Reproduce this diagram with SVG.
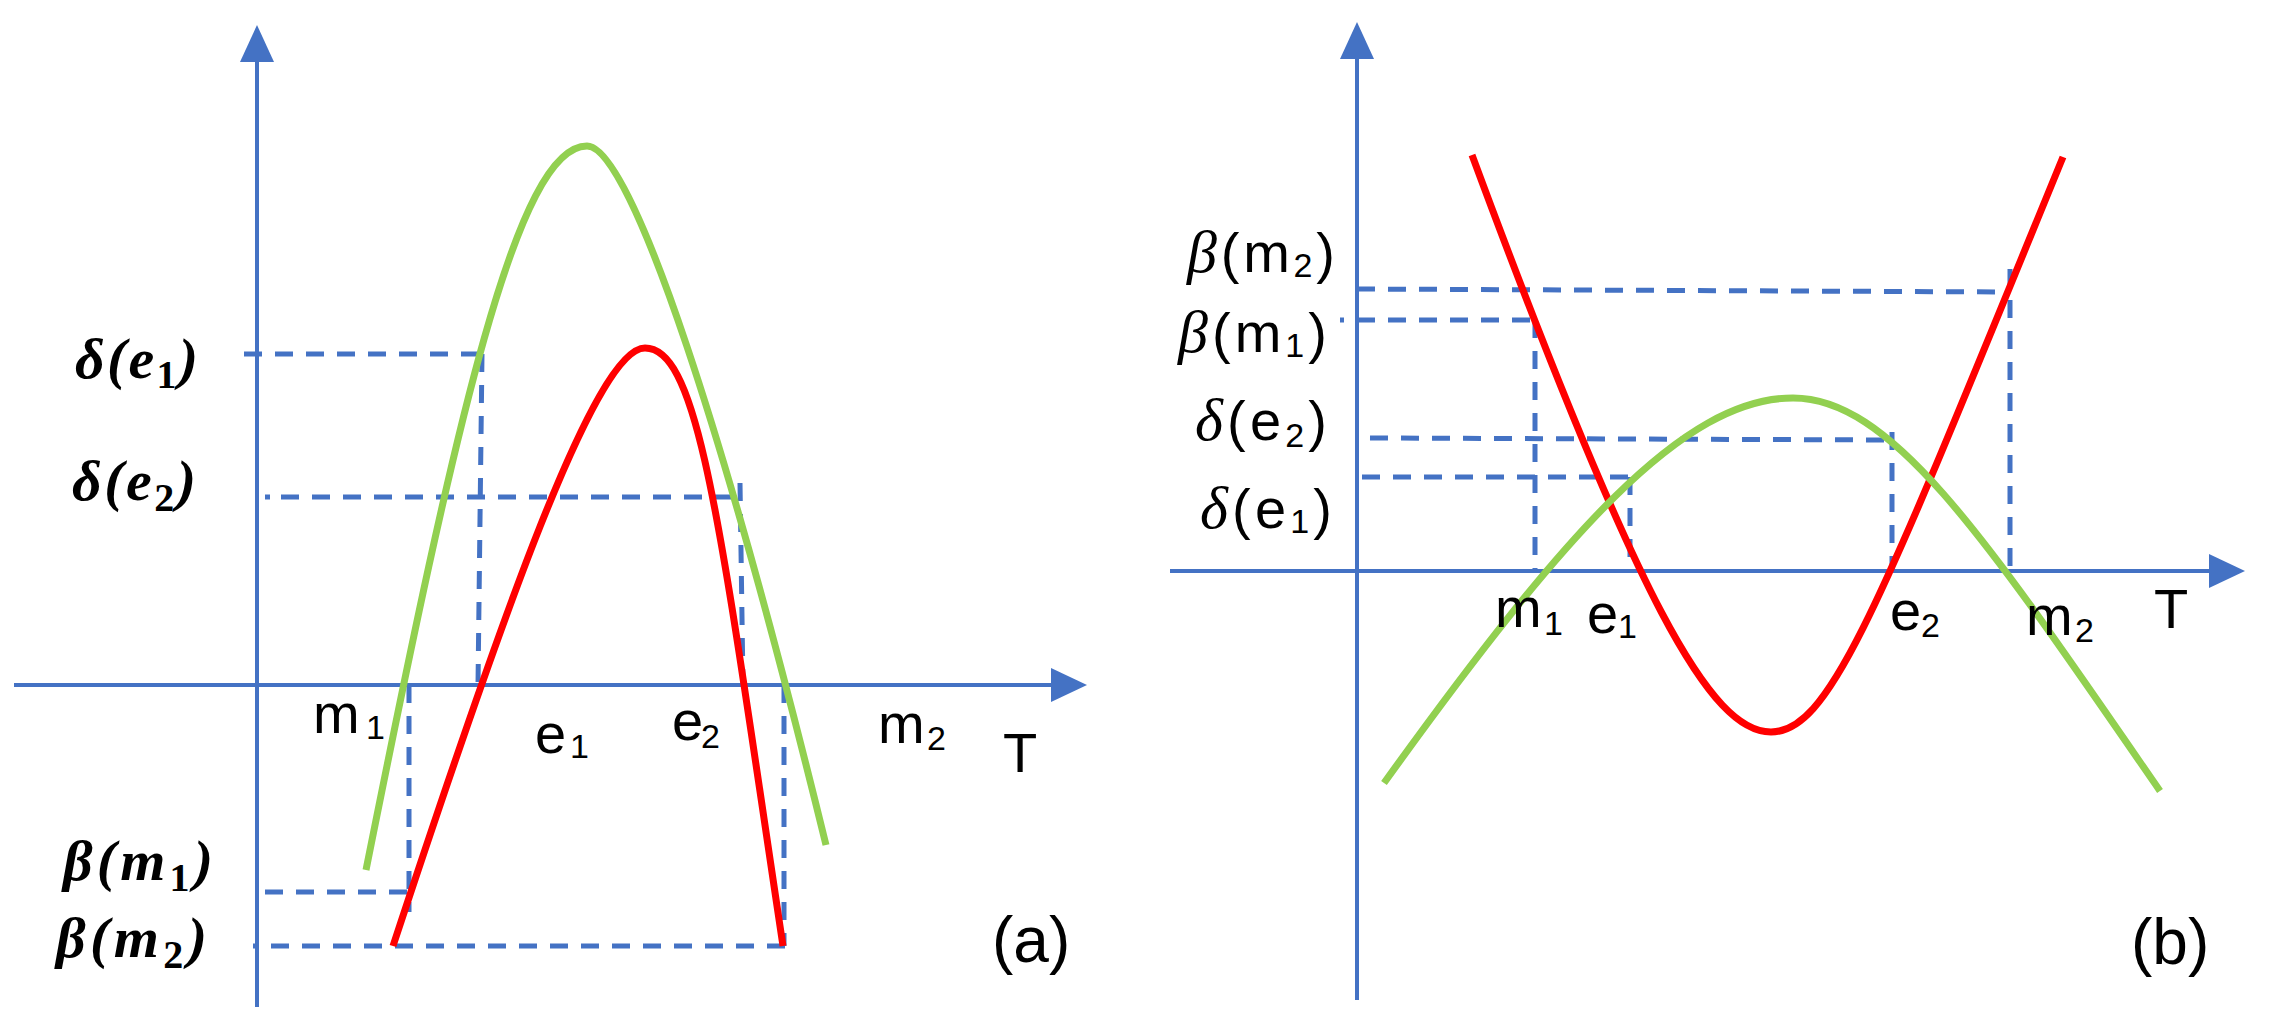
<svg xmlns="http://www.w3.org/2000/svg" width="2273" height="1024" viewBox="0 0 2273 1024">
<style>
.axis{stroke:#4472C4;stroke-width:4;fill:none}
.head{fill:#4472C4;stroke:none}
.dash{stroke:#4472C4;stroke-width:5;fill:none;stroke-dasharray:18 13}
.green{stroke:#92D050;stroke-width:7;fill:none}
.red{stroke:#FF0000;stroke-width:7;fill:none}
.lblA{font-family:"Liberation Serif",serif;font-weight:bold;font-style:italic;font-size:58px;fill:#000}
.subA{font-size:40px;font-style:normal}
.sans{font-family:"Liberation Sans",Arial,sans-serif;font-size:56px;fill:#000}
.greek{font-family:"Liberation Serif",serif;font-style:italic;font-size:60px}
.sub{font-size:34px}
.tag{font-family:"Liberation Sans",Arial,sans-serif;font-size:64px;fill:#000}
</style>
<rect width="2273" height="1024" fill="#fff"/>

<!-- Panel (a) -->
<g id="panel-a">
  <g id="axes-a">
    <line class="axis" x1="257" y1="1007" x2="257" y2="55"/>
    <polygon class="head" points="257,25 240,62 274,62"/>
    <line class="axis" x1="14" y1="685" x2="1060" y2="685"/>
    <polygon class="head" points="1087,685 1051,668 1051,702"/>
  </g>
  <g id="guides-a">
    <path class="dash" d="M244,354 H484 M482,354 L478,685"/>
    <path class="dash" d="M265,497 H270 M281,497 H740 M740,483 L743,685"/>
    <path class="dash" d="M265,892 H410 M409,685 V912"/>
    <path class="dash" d="M253,946 H258 M271,946 H790 M784,685 V946"/>
  </g>
  <g id="curves-a">
    <path id="green-a" class="green" d="M366,870 C456,420 517,146 587,146 C632,146 728,445 826,845"/>
    <path id="red-a" class="red" d="M393,946 C498.6,626 595,348 645,348 C700,348 720,526 783,946"/>
  </g>
  <g id="labels-a">
    <text class="lblA" x="75" y="378" textLength="123" lengthAdjust="spacing">δ(e<tspan class="subA" dy="10">1</tspan><tspan dy="-10">)</tspan></text>
    <text class="lblA" x="72" y="500" textLength="124" lengthAdjust="spacing">δ(e<tspan class="subA" dy="11">2</tspan><tspan dy="-11">)</tspan></text>
    <text class="lblA" x="63" y="880" textLength="150" lengthAdjust="spacing">β(m<tspan class="subA" dy="11">1</tspan><tspan dy="-11">)</tspan></text>
    <text class="lblA" x="56" y="957" textLength="151" lengthAdjust="spacing">β(m<tspan class="subA" dy="11">2</tspan><tspan dy="-11">)</tspan></text>
    <text class="sans" x="313" y="733">m<tspan class="sub" x="366" y="739">1</tspan></text>
    <text class="sans" x="535" y="753">e<tspan class="sub" x="570" y="758">1</tspan></text>
    <text class="sans" x="672" y="740">e<tspan class="sub" x="701" y="748">2</tspan></text>
    <text class="sans" x="878" y="743">m<tspan class="sub" x="927" y="750">2</tspan></text>
    <text class="sans" x="1003" y="772">T</text>
    <text class="tag" x="992" y="962">(a)</text>
  </g>
</g>

<!-- Panel (b) -->
<g id="panel-b">
  <g id="axes-b">
    <line class="axis" x1="1357" y1="1000" x2="1357" y2="52"/>
    <polygon class="head" points="1357,22 1340,59 1374,59"/>
    <line class="axis" x1="1170" y1="571" x2="2218" y2="571"/>
    <polygon class="head" points="2245,571 2209,554 2209,588"/>
  </g>
  <g id="guides-b">
    <path class="dash" d="M1357,289 L2010,292 M2010,269 V571"/>
    <path class="dash" d="M1340,320 H1344 M1357,320 H1533 M1535,320 V571"/>
    <path class="dash" d="M1370,438 L1892,440 M1892,432 V571"/>
    <path class="dash" d="M1362,477 H1630 M1630,477 V571"/>
  </g>
  <g id="curves-b">
    <path id="red-b" class="red" d="M1472,155 C1638.5,605 1711,732 1771,732 C1831,732 1878.5,607 2063,157"/>
    <path id="green-b" class="green" d="M1384,783 C1564,533 1683,398 1793,398 C1893,398 1987.5,541 2160,791"/>
  </g>
  <g id="labels-b">
    <text class="sans" x="1187" y="272" textLength="148" lengthAdjust="spacing"><tspan class="greek">β</tspan>(m<tspan class="sub" dy="5">2</tspan><tspan dy="-5">)</tspan></text>
    <text class="sans" x="1178" y="352" textLength="149" lengthAdjust="spacing"><tspan class="greek">β</tspan>(m<tspan class="sub" dy="5">1</tspan><tspan dy="-5">)</tspan></text>
    <text class="sans" x="1195" y="440" textLength="132" lengthAdjust="spacing"><tspan class="greek">δ</tspan>(e<tspan class="sub" dy="7">2</tspan><tspan dy="-7">)</tspan></text>
    <text class="sans" x="1200" y="528" textLength="132" lengthAdjust="spacing"><tspan class="greek">δ</tspan>(e<tspan class="sub" dy="5">1</tspan><tspan dy="-5">)</tspan></text>
    <text class="sans" x="1495" y="627">m<tspan class="sub" x="1544" y="635">1</tspan></text>
    <text class="sans" x="1587" y="633">e<tspan class="sub" x="1618" y="638">1</tspan></text>
    <text class="sans" x="1890" y="630">e<tspan class="sub" x="1921" y="637">2</tspan></text>
    <text class="sans" x="2026" y="635">m<tspan class="sub" x="2075" y="642">2</tspan></text>
    <text class="sans" x="2154" y="628">T</text>
    <text class="tag" x="2131" y="964">(b)</text>
  </g>
</g>
</svg>
